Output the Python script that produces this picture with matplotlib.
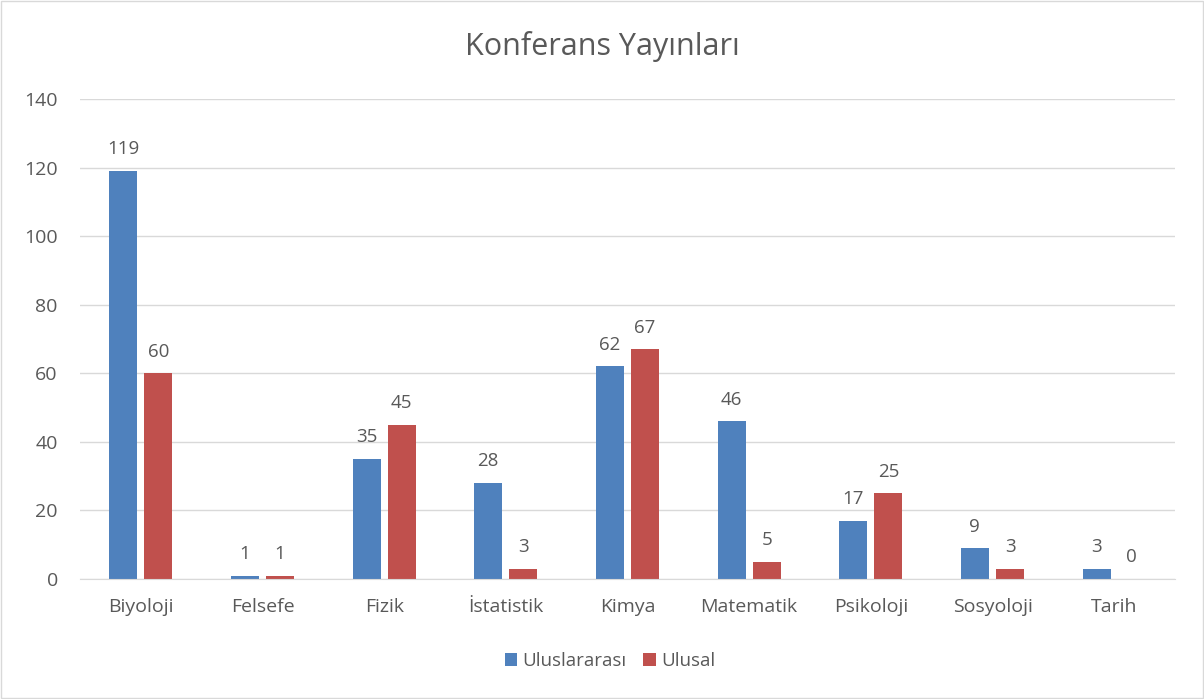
import matplotlib
matplotlib.use("Agg")
import matplotlib.pyplot as plt
import numpy as np
from matplotlib.patches import Rectangle

categories = ["Biyoloji", "Felsefe", "Fizik", "İstatistik", "Kimya", "Matematik", "Psikoloji", "Sosyoloji", "Tarih"]
uluslararasi = [119, 1, 35, 28, 62, 46, 17, 9, 3]
ulusal = [60, 1, 45, 3, 67, 5, 25, 3, 0]
yticks = [0, 20, 40, 60, 80, 100, 120, 140]

plt.rcParams['font.family'] = ['Open Sans', 'DejaVu Sans']
TXT = "#595959"

W, H = 1204, 699
fig = plt.figure(figsize=(W/100, H/100), dpi=100)
ax = fig.add_axes([80/W, 1-579/H, (1175-80)/W, (579-99)/H])

x = np.arange(len(categories))
bw = 0.23
off = 0.145
blue = "#4F81BD"
red = "#C0504D"
b1 = ax.bar(x - off, uluslararasi, bw, color=blue, label="Uluslararası", zorder=3)
b2 = ax.bar(x + off, ulusal, bw, color=red, label="Ulusal", zorder=3)
for bars, vals in ((b1, uluslararasi), (b2, ulusal)):
    for r, v in zip(bars, vals):
        ax.annotate(str(v), (r.get_x() + r.get_width()/2, v), xytext=(0, 9),
                    textcoords="offset points", ha="center", va="bottom",
                    fontsize=13.5, color=TXT)

ax.set_xlim(-0.5, len(categories) - 0.5)
ax.set_ylim(0, 140)
ax.set_yticks(yticks)
ax.set_xticks(x)
ax.set_xticklabels(categories, fontsize=14, color=TXT)
ax.tick_params(axis='y', labelsize=14, colors=TXT, length=0, pad=16)
ax.tick_params(axis='x', length=0, pad=14)
ax.grid(axis='y', color="#D9D9D9", linewidth=1, zorder=0)
for s in ["top", "right", "left"]:
    ax.spines[s].set_visible(False)
ax.spines["bottom"].set_color("#D9D9D9")
ax.spines["bottom"].set_zorder(4)

fig.text(0.5, 1-47/H, "Konferans Yayınları", ha="center", va="center",
         fontsize=22, color=TXT)

leg = fig.legend(handles=[b1, b2], loc="center", bbox_to_anchor=(610/W, 1-661/H),
                 ncol=2, frameon=False, fontsize=13.5, handlelength=0.65,
                 handleheight=0.65, columnspacing=0.9, handletextpad=0.3)
for t in leg.get_texts():
    t.set_color(TXT)

fig.patches.append(Rectangle((1/W, 1/H), 1-2/W, 1-2/H, transform=fig.transFigure,
                             fill=False, edgecolor="#D9D9D9", linewidth=1))

fig.savefig("out.png", dpi=100, facecolor="white")
